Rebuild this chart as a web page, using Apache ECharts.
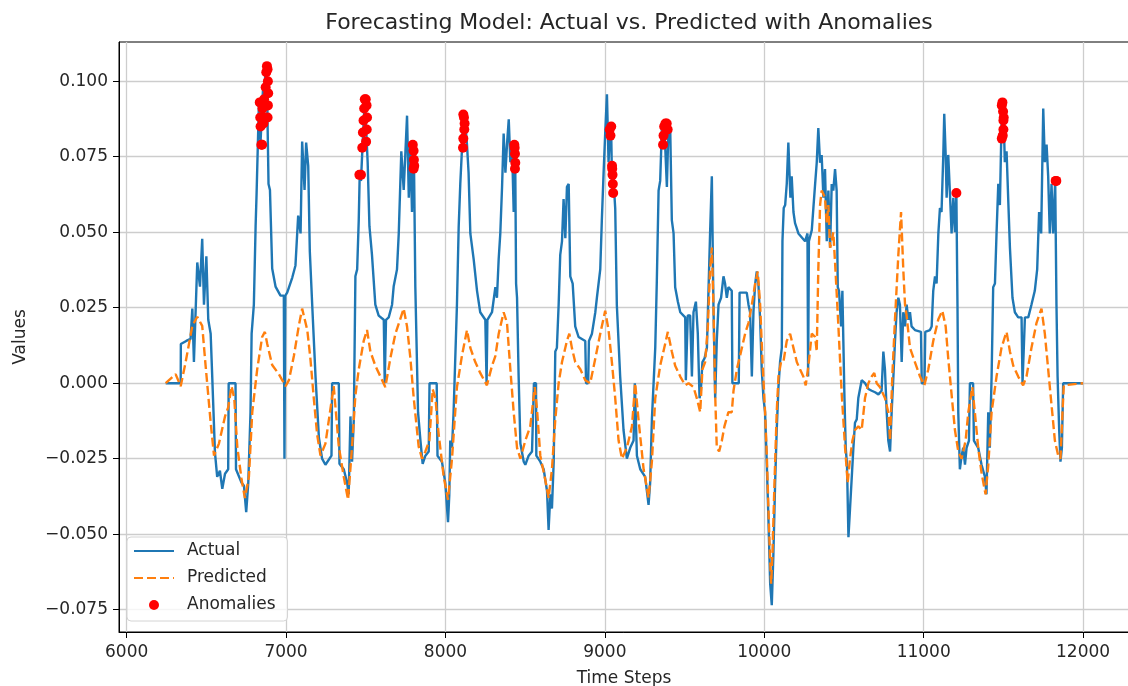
<!DOCTYPE html>
<html>
<head>
<meta charset="utf-8">
<title>Forecasting Model</title>
<script src="https://cdn.jsdelivr.net/npm/echarts@6/dist/echarts.min.js"></script>
<style>
  html, body { margin: 0; padding: 0; background: #fff; }
  #chart { width: 1128px; height: 686px; }
</style>
</head>
<body>
<div id="chart"></div>
<script>
// values: [time step, value]
const actualPoints = [
  [6245, 0], [6339, 0], [6340, 0.013], [6374, 0.014], [6401, 0.0147], [6412, 0.0247], [6422, 0.007],
  [6443, 0.040], [6460, 0.032], [6474, 0.0478], [6485, 0.026], [6500, 0.042], [6512, 0.021],
  [6527, 0.0164], [6537, 0.002], [6554, -0.023], [6568, -0.031], [6585, -0.029], [6600, -0.035],
  [6617, -0.030], [6637, -0.0285], [6640, 0], [6683, 0], [6686, -0.0285], [6721, -0.033],
  [6736, -0.034], [6750, -0.0427], [6763, -0.033], [6777, -0.0096], [6784, 0.0164], [6798, 0.026],
  [6809, 0.052], [6815, 0.0626], [6830, 0.0933], [6840, 0.080], [6855, 0.097], [6862, 0.088],
  [6870, 0.104], [6880, 0.105], [6884, 0.086], [6890, 0.066], [6899, 0.064], [6913, 0.038],
  [6934, 0.032], [6965, 0.029], [6986, 0.029], [6990, -0.025], [6995, 0.029], [7007, 0.030],
  [7018, 0.030], [7039, 0.035], [7059, 0.039], [7076, 0.0555], [7091, 0.0496], [7101, 0.080],
  [7116, 0.064], [7126, 0.0797], [7139, 0.072], [7149, 0.0437], [7164, 0.026], [7185, 0.002],
  [7206, -0.018], [7226, -0.025], [7247, -0.027], [7285, -0.024], [7289, 0], [7331, 0],
  [7335, -0.0267], [7362, -0.0285], [7383, -0.033], [7393, -0.0368], [7404, -0.011], [7414, -0.026],
  [7425, -0.012], [7435, 0.0354], [7446, 0.0377], [7456, 0.054], [7462, 0.069], [7470, 0.067],
  [7481, 0.080], [7494, 0.0945], [7502, 0.085], [7512, 0.073], [7523, 0.052], [7539, 0.0425],
  [7560, 0.026], [7581, 0.0224], [7613, 0.021], [7619, 0], [7627, 0.021], [7644, 0.0218],
  [7665, 0.026], [7675, 0.032], [7696, 0.0377], [7707, 0.0496], [7723, 0.0768], [7738, 0.064],
  [7748, 0.0756], [7759, 0.0886], [7770, 0.0614], [7780, 0.078], [7790, 0.0567], [7798, 0.079],
  [7803, 0.071], [7811, 0.0318], [7828, -0.0096], [7843, -0.019], [7857, -0.0267], [7874, -0.024],
  [7895, -0.0226], [7900, 0], [7945, 0], [7950, -0.024], [7978, -0.026], [7999, -0.033],
  [8016, -0.046], [8024, -0.037], [8030, -0.019], [8041, -0.0214], [8051, -0.0096], [8072, 0.026],
  [8083, 0.052], [8093, 0.066], [8104, 0.078], [8112, 0.090], [8120, 0.089], [8135, 0.079],
  [8145, 0.0697], [8156, 0.0496], [8177, 0.041], [8198, 0.0306], [8218, 0.0235], [8250, 0.021],
  [8258, 0], [8263, 0.021], [8292, 0.0235], [8313, 0.0318], [8323, 0.0283], [8334, 0.0413],
  [8344, 0.0496], [8355, 0.065], [8365, 0.0827], [8376, 0.0697], [8386, 0.079], [8397, 0.0874],
  [8407, 0.0732], [8417, 0.080], [8428, 0.0567], [8433, 0.079], [8438, 0.071], [8443, 0.033],
  [8449, 0.0283], [8459, 0.0022], [8470, -0.020], [8491, -0.026], [8501, -0.027], [8522, -0.024],
  [8543, -0.0226], [8555, 0], [8568, 0], [8570, -0.024], [8595, -0.026], [8616, -0.0285],
  [8637, -0.0356], [8647, -0.0486], [8658, -0.0368], [8668, -0.0415], [8679, -0.026], [8689, 0.0105],
  [8699, 0.0117], [8710, 0.026], [8720, 0.0425], [8731, 0.047], [8741, 0.061], [8752, 0.048],
  [8762, 0.065], [8773, 0.066], [8783, 0.0354], [8798, 0.033], [8814, 0.0188], [8835, 0.0153],
  [8877, 0.014], [8882, 0], [8895, 0], [8900, 0.014], [8919, 0.0164], [8940, 0.0235],
  [8950, 0.0283], [8971, 0.0377], [8981, 0.054], [8992, 0.0697], [9002, 0.0827], [9013, 0.0957],
  [9023, 0.0732], [9034, 0.085], [9040, 0.082], [9046, 0.063], [9052, 0.072], [9058, 0.064],
  [9065, 0.0578], [9075, 0.026], [9096, 0.0022], [9117, -0.0155], [9138, -0.025], [9159, -0.0214],
  [9180, -0.019], [9188, 0], [9195, 0], [9201, -0.024], [9222, -0.0285], [9253, -0.031],
  [9274, -0.0403], [9284, -0.033], [9295, -0.012], [9316, 0.0117], [9326, 0.034], [9337, 0.0638],
  [9347, 0.067], [9358, 0.085], [9368, 0.086], [9378, 0.079], [9389, 0.065], [9399, 0.085],
  [9410, 0.084], [9420, 0.054], [9431, 0.0496], [9441, 0.0318], [9458, 0.027], [9473, 0.0235],
  [9504, 0.0218], [9508, 0.001], [9516, 0.001], [9520, 0.0224], [9535, 0.0224], [9546, 0.0022],
  [9556, 0.0235], [9571, 0.027], [9583, 0.0164], [9594, -0.005], [9602, -0.0025], [9612, 0.007],
  [9625, 0.0082], [9640, 0.0117], [9660, 0.0496], [9671, 0.0685], [9681, 0.026], [9692, -0.005],
  [9702, 0.014], [9713, 0.026], [9729, 0.0283], [9744, 0.0354], [9754, 0.033], [9765, 0.0283],
  [9775, 0.0318], [9796, 0.0306], [9800, 0], [9840, 0], [9845, 0.030], [9890, 0.030],
  [9901, 0.026], [9911, 0.0235], [9922, 0.0022], [9932, 0.0235], [9943, 0.033], [9953, 0.037],
  [9963, 0.033], [9974, 0.021], [9984, 0.0046], [9995, -0.005], [10005, -0.0096], [10016, -0.027],
  [10026, -0.045], [10037, -0.0664], [10047, -0.0735], [10057, -0.057], [10068, -0.033],
  [10078, -0.0155], [10089, -0.0013], [10099, 0.007], [10110, 0.0117], [10114, 0.047],
  [10122, 0.058], [10131, 0.059], [10141, 0.066], [10151, 0.0797], [10158, 0.0697], [10164, 0.0614],
  [10172, 0.0685], [10183, 0.0567], [10193, 0.053], [10204, 0.0513], [10214, 0.0496], [10256, 0.047],
  [10271, 0.0496], [10275, 0.0022], [10280, 0.047], [10298, 0.0507], [10308, 0.058], [10319, 0.066],
  [10329, 0.073], [10339, 0.0845], [10350, 0.073], [10360, 0.0756], [10371, 0.0614], [10381, 0.0709],
  [10392, 0.047], [10402, 0.0638], [10413, 0.0449], [10423, 0.066], [10433, 0.0638], [10444, 0.0709],
  [10454, 0.0638], [10461, 0.0318], [10469, 0.0306], [10482, 0.0188], [10490, 0.0306], [10496, 0.014],
  [10503, -0.0049], [10511, -0.0214], [10519, -0.027], [10528, -0.051], [10538, -0.0415],
  [10548, -0.0415], [10559, -0.0214], [10569, -0.0131], [10580, -0.012], [10590, -0.0049],
  [10611, 0.001], [10632, 0], [10653, -0.0019], [10674, -0.0025], [10695, -0.003], [10716, -0.0037],
  [10736, -0.0025], [10747, 0.0105], [10757, 0.0046], [10768, -0.0096], [10778, -0.019],
  [10789, -0.0226], [10799, -0.0096], [10810, 0.0022], [10820, 0.014], [10830, 0.0235],
  [10841, 0.0283], [10851, 0.026], [10862, 0.007], [10872, 0.0235], [10883, 0.0188], [10893, 0.026],
  [10904, 0.021], [10914, 0.0235], [10924, 0.0188], [10945, 0.0176], [10983, 0.017], [10988, 0],
  [11005, 0], [11010, 0.017], [11039, 0.0176], [11050, 0.0188], [11060, 0.0306], [11071, 0.0354],
  [11081, 0.033], [11092, 0.0496], [11102, 0.058], [11112, 0.0567], [11123, 0.0756], [11129, 0.0892],
  [11138, 0.0756], [11144, 0.0614], [11154, 0.0756], [11165, 0.0626], [11175, 0.0496], [11186, 0.0614],
  [11196, 0.050], [11205, 0.063], [11212, 0.026], [11217, -0.0096], [11227, -0.0285], [11238, -0.024],
  [11248, -0.0214], [11259, -0.027], [11269, -0.0214], [11284, -0.019], [11290, 0], [11310, 0],
  [11315, -0.019], [11342, -0.0214], [11363, -0.027], [11384, -0.031], [11394, -0.0368],
  [11405, -0.0096], [11415, -0.0214], [11426, 0.0022], [11436, 0.0318], [11447, 0.033],
  [11457, 0.0496], [11468, 0.066], [11478, 0.059], [11488, 0.085], [11499, 0.0933], [11509, 0.0732],
  [11520, 0.0768], [11530, 0.0614], [11541, 0.0449], [11557, 0.0283], [11572, 0.0235], [11593, 0.0218],
  [11614, 0.0218], [11620, 0], [11630, 0], [11635, 0.0218], [11656, 0.0218], [11676, 0.026],
  [11697, 0.0306], [11712, 0.0377], [11724, 0.0567], [11737, 0.0496], [11750, 0.091], [11760, 0.0732],
  [11771, 0.079], [11781, 0.0685], [11791, 0.0496], [11802, 0.066], [11812, 0.0496], [11825, 0.067],
  [11833, 0.026], [11840, 0.0022], [11850, -0.0155], [11858, -0.026], [11867, -0.0214], [11875, 0],
  [12000, 0]
]

const predictedPoints = [
  [6245, 0], [6307, 0.003], [6339, -0.001], [6370, 0.007], [6412, 0.019], [6443, 0.022], [6474, 0.019],
  [6495, 0.006], [6527, -0.013], [6548, -0.024], [6579, -0.020], [6617, -0.011], [6637, -0.008],
  [6658, -0.001], [6675, -0.005], [6694, -0.021], [6721, -0.032], [6742, -0.038], [6767, -0.031],
  [6788, -0.0096], [6819, 0.0046], [6850, 0.0153], [6867, 0.017], [6882, 0.013], [6913, 0.006],
  [6955, 0.003], [6997, -0.001], [7018, 0.001], [7049, 0.009], [7080, 0.019], [7101, 0.0247],
  [7133, 0.0176], [7153, 0.008], [7174, -0.005], [7195, -0.017], [7216, -0.024], [7247, -0.020],
  [7299, -0.001], [7331, -0.021], [7362, -0.031], [7389, -0.0386], [7414, -0.021], [7435, -0.004],
  [7456, 0.0046], [7487, 0.014], [7508, 0.0176], [7529, 0.0105], [7560, 0.0058], [7592, 0.0022],
  [7623, -0.0013], [7654, 0.0082], [7686, 0.0164], [7738, 0.0247], [7759, 0.0188], [7780, 0.0082],
  [7801, -0.005], [7832, -0.021], [7853, -0.025], [7874, -0.0226], [7899, -0.019], [7920, -0.002],
  [7937, -0.005], [7957, -0.0167], [7989, -0.031], [8016, -0.0386], [8041, -0.025], [8072, -0.0013],
  [8104, 0.0093], [8135, 0.0176], [8156, 0.0117], [8187, 0.007], [8218, 0.0034], [8260, -0.0007],
  [8292, 0.0058], [8313, 0.009], [8334, 0.0164], [8365, 0.0235], [8386, 0.020], [8407, 0.0046],
  [8428, -0.0096], [8449, -0.0214], [8470, -0.025], [8501, -0.019], [8532, -0.0143], [8560, -0.0013],
  [8574, -0.0084], [8595, -0.024], [8626, -0.032], [8647, -0.038], [8668, -0.0285], [8689, -0.012],
  [8710, 0], [8731, 0.007], [8762, 0.014], [8777, 0.0164], [8793, 0.0117], [8814, 0.007],
  [8846, 0.0046], [8877, 0.001], [8908, 0], [8940, 0.0082], [8971, 0.0164], [9002, 0.024],
  [9023, 0.0176], [9044, 0.007], [9065, -0.005], [9086, -0.019], [9107, -0.025], [9138, -0.0214],
  [9170, -0.0143], [9190, 0], [9211, -0.012], [9243, -0.0285], [9274, -0.038], [9295, -0.026],
  [9316, -0.005], [9347, 0.0058], [9378, 0.013], [9395, 0.017], [9420, 0.0105], [9441, 0.0058],
  [9473, 0.0022], [9504, -0.0007], [9525, 0], [9556, -0.0013], [9577, -0.005], [9598, -0.0096],
  [9612, 0.0046], [9629, 0.007], [9646, 0.0188], [9660, 0.0377], [9671, 0.0449], [9681, 0.026],
  [9692, -0.0037], [9702, -0.0214], [9717, -0.0226], [9734, -0.019], [9750, -0.0143], [9775, -0.0096],
  [9796, -0.0096], [9807, -0.0025], [9828, 0.0046], [9849, 0.0093], [9880, 0.0164], [9901, 0.020],
  [9922, 0.026], [9943, 0.033], [9959, 0.037], [9974, 0.026], [9988, 0.0082], [10005, -0.0096],
  [10016, -0.024], [10026, -0.0415], [10037, -0.059], [10043, -0.0664], [10051, -0.057],
  [10064, -0.033], [10078, -0.0096], [10089, 0.0022], [10105, 0.007], [10120, 0.007], [10141, 0.014],
  [10162, 0.0164], [10183, 0.0117], [10204, 0.007], [10224, 0.0046], [10245, 0.0022], [10260, -0.0007],
  [10277, 0.0058], [10298, 0.0164], [10319, 0.0153], [10329, 0.0105], [10339, 0.0377], [10350, 0.059],
  [10360, 0.0638], [10371, 0.0626], [10381, 0.0614], [10392, 0.053], [10402, 0.059], [10413, 0.0449],
  [10423, 0.047], [10433, 0.050], [10444, 0.040], [10454, 0.030], [10465, 0.0188], [10486, -0.0037],
  [10507, -0.0214], [10523, -0.033], [10538, -0.025], [10553, -0.019], [10569, -0.0155],
  [10590, -0.0143], [10611, -0.0155], [10632, -0.0049], [10653, 0], [10674, 0.0022], [10690, 0.0034],
  [10705, 0], [10726, -0.0013], [10757, -0.0049], [10778, -0.0096], [10789, -0.019], [10803, 0.0022],
  [10820, 0.0212], [10841, 0.0425], [10858, 0.0567], [10872, 0.0377], [10883, 0.026], [10893, 0.0224],
  [10914, 0.0117], [10945, 0.007], [10977, 0.0022], [11004, -0.0007], [11029, 0.0046], [11060, 0.014],
  [11092, 0.0212], [11117, 0.024], [11138, 0.0188], [11154, 0.0082], [11175, -0.0037],
  [11196, -0.0155], [11217, -0.0226], [11238, -0.025], [11263, -0.019], [11280, -0.0096],
  [11305, -0.0013], [11321, -0.0096], [11342, -0.0214], [11363, -0.0297], [11388, -0.0368],
  [11405, -0.0273], [11426, -0.0096], [11457, 0.0022], [11488, 0.0117], [11509, 0.0153], [11520, 0.017],
  [11541, 0.0105], [11562, 0.0058], [11593, 0.0022], [11624, -0.0007], [11645, 0.0022], [11676, 0.0117],
  [11708, 0.020], [11739, 0.0247], [11760, 0.0164], [11781, 0.0046], [11802, -0.0072], [11823, -0.019],
  [11844, -0.024], [11858, -0.025], [11871, -0.0096], [11879, -0.0007], [12000, 0]
]

const anomalyPoints = [
  [6835, 0.093], [6838, 0.088], [6840, 0.085], [6845, 0.079], [6850, 0.079], [6852, 0.091],
  [6858, 0.086], [6862, 0.094], [6868, 0.088], [6872, 0.098], [6876, 0.103], [6880, 0.105],
  [6884, 0.104], [6886, 0.100], [6888, 0.096], [6886, 0.092], [6884, 0.088],
  [7460, 0.069], [7470, 0.069], [7478, 0.078], [7482, 0.083], [7486, 0.087], [7490, 0.091],
  [7494, 0.094], [7500, 0.094], [7505, 0.092], [7508, 0.088], [7506, 0.084], [7502, 0.080],
  [7795, 0.079], [7800, 0.077], [7802, 0.074], [7804, 0.072], [7800, 0.071],
  [8110, 0.078], [8112, 0.081], [8112, 0.089], [8116, 0.088], [8118, 0.084], [8120, 0.086],
  [8432, 0.079], [8434, 0.078], [8436, 0.076], [8438, 0.073], [8436, 0.071],
  [9030, 0.084], [9035, 0.082], [9040, 0.085], [9045, 0.072], [9046, 0.071], [9048, 0.069],
  [9050, 0.066], [9052, 0.063],
  [9365, 0.079], [9368, 0.082], [9372, 0.085], [9380, 0.086], [9388, 0.086], [9394, 0.084],
  [11205, 0.063],
  [11490, 0.092], [11494, 0.093], [11498, 0.090], [11500, 0.087], [11500, 0.084], [11490, 0.081],
  [11496, 0.082], [11502, 0.088],
  [11828, 0.067], [11832, 0.067]
]

const xTicks = [6000, 7000, 8000, 9000, 10000, 11000, 12000]
const yTicks = [-0.075, -0.05, -0.025, 0, 0.025, 0.05, 0.075, 0.1]

const font = 'DejaVu Sans'
const textColor = '#262626'

const chart = echarts.init(document.getElementById('chart'), null, { renderer: 'canvas' })
chart.setOption({
  animation: false,
  backgroundColor: '#fff',
  textStyle: { fontFamily: font },
  title: {
    text: 'Forecasting Model: Actual vs. Predicted with Anomalies',
    left: 624,
    textAlign: 'center',
    top: 7,
    textStyle: { fontFamily: font, fontSize: 22, fontWeight: 'normal', color: textColor }
  },
  legend: {
    orient: 'vertical',
    left: 127,
    top: 537,
    padding: [4, 12, 6, 6],
    itemWidth: 40,
    itemHeight: 10,
    itemGap: 7,
    borderColor: '#d4d4d4',
    borderWidth: 1,
    borderRadius: 4,
    backgroundColor: 'rgba(255,255,255,0.8)',
    textStyle: { fontFamily: font, fontSize: 17, color: textColor, lineHeight: 20, padding: [0, 0, 0, 8] },
    data: [
      { name: 'Actual', itemStyle: { opacity: 0 } },
      { name: 'Predicted', itemStyle: { opacity: 0 } },
      { name: 'Anomalies' }
    ]
  },
  // frame of the axes (top spine; the right one falls just outside the picture)
  grid: {
    left: 119, top: 42, width: 1010, height: 590, outerBoundsMode: 'none',
    show: true, borderColor: '#000', borderWidth: 1, backgroundColor: 'transparent'
  },
  xAxis: {
    type: 'value',
    min: 5952,
    max: 12288,
    name: 'Time Steps',
    nameLocation: 'middle',
    nameGap: 38,
    nameTextStyle: { fontFamily: font, fontSize: 17, color: textColor },
    axisLine: { show: true, onZero: false, lineStyle: { color: '#000', width: 1 } },
    axisTick: { show: true, length: 6, lineStyle: { color: '#000' }, customValues: xTicks },
    axisLabel: {
      customValues: xTicks, fontFamily: font, fontSize: 17, color: textColor, margin: 12,
      formatter: v => String(v)
    },
    splitLine: { show: true, lineStyle: { color: '#cdcdcd', width: 1.3 } }
  },
  yAxis: {
    type: 'value',
    min: -0.0824,
    max: 0.113,
    name: 'Values',
    nameLocation: 'middle',
    nameRotate: 90,
    nameGap: 90,
    nameTextStyle: { fontFamily: font, fontSize: 17, color: textColor },
    axisLine: { show: true, onZero: false, lineStyle: { color: '#000', width: 1 } },
    axisTick: { show: true, length: 6, lineStyle: { color: '#000' }, customValues: yTicks },
    axisLabel: {
      customValues: yTicks, fontFamily: font, fontSize: 17, color: textColor, margin: 11,
      formatter: v => (v < 0 ? '\u2212' : '') + Math.abs(v).toFixed(3)
    },
    splitLine: { show: true, lineStyle: { color: '#cdcdcd', width: 1.3 } }
  },
  series: [
    {
      name: 'Actual',
      type: 'line',
      data: actualPoints,
      symbol: 'none',
      showSymbol: false,
      color: '#1f77b4',
      lineStyle: { color: '#1f77b4', width: 2.4 },
      z: 2
    },
    {
      name: 'Predicted',
      type: 'line',
      data: predictedPoints,
      symbol: 'none',
      showSymbol: false,
      color: '#ff7f0e',
      lineStyle: { color: '#ff7f0e', width: 2.4, type: [9, 4] },
      z: 3
    },
    {
      name: 'Anomalies',
      type: 'scatter',
      data: anomalyPoints,
      symbol: 'circle',
      symbolSize: 10,
      itemStyle: { color: '#ff0000', opacity: 1 },
      z: 4
    }
  ]
})
</script>
</body>
</html>
